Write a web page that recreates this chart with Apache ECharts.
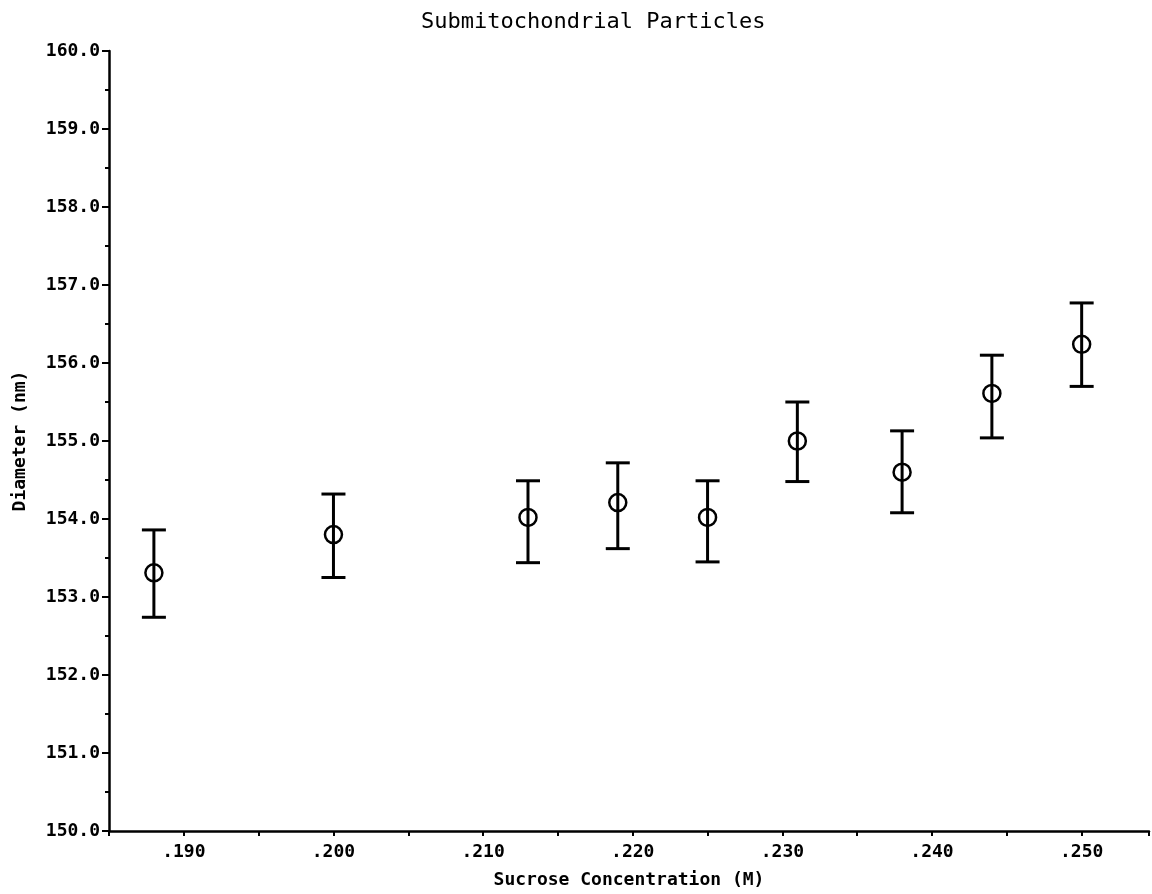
<!DOCTYPE html>
<html>
<head>
<meta charset="utf-8">
<script src="https://cdn.jsdelivr.net/npm/echarts@6/dist/echarts.min.js"></script>
<style>
  html, body { margin: 0; padding: 0; background: #fff; }
  #chart { width: 1152px; height: 894px; }
</style>
</head>
<body>
<div id="chart"></div>
<script>
  // sucrose concentration (M)
  const concentration = [0.188, 0.200, 0.213, 0.219, 0.225, 0.231, 0.238, 0.244, 0.250]
  // mean diameter (nm) and error bar ends
  const diameter = [153.31, 153.80, 154.02, 154.21, 154.02, 155.00, 154.60, 155.61, 156.24]
  const upper = [153.86, 154.32, 154.49, 154.72, 154.49, 155.50, 155.13, 156.10, 156.77]
  const lower = [152.74, 153.25, 153.44, 153.62, 153.45, 154.48, 154.08, 155.04, 155.70]

  const font = 'DejaVu Sans Mono'

  const points = concentration.map((c, i) => [c, diameter[i]])
  const bars = concentration.map((c, i) => [c, lower[i], upper[i]])

  const myChart = echarts.init(document.getElementById('chart'))
  myChart.setOption({
    animation: false,
    backgroundColor: '#fff',
    title: {
      text: 'Submitochondrial Particles',
      left: 416,
      top: 6,
      textStyle: { fontFamily: font, fontSize: 22, fontWeight: 'normal', color: '#000' }
    },
    grid: { left: 109, right: 0, top: 51, bottom: 61 },
    xAxis: {
      type: 'value',
      min: 0.185,
      max: 0.2545,
      interval: 0.005,
      name: 'Sucrose Concentration (M)',
      nameLocation: 'middle',
      nameGap: 40,
      nameTextStyle: { fontFamily: font, fontSize: 18, fontWeight: 'bold', color: '#000' },
      axisLine: { lineStyle: { color: '#000', width: 2.5 } },
      axisTick: { length: 5, lineStyle: { color: '#000', width: 2 } },
      splitLine: { show: false },
      axisLabel: {
        margin: 12,
        fontFamily: font, fontSize: 18, fontWeight: 'bold', color: '#000',
        formatter: v => {
          const k = Math.round(v * 1000)
          if (k % 10 !== 0 || k < 190) return ''
          return v.toFixed(3).slice(1)
        }
      }
    },
    yAxis: {
      type: 'value',
      min: 150,
      max: 160,
      interval: 1,
      name: 'Diameter (nm)',
      nameLocation: 'middle',
      nameGap: 80,
      nameTextStyle: { fontFamily: font, fontSize: 18, fontWeight: 'bold', color: '#000' },
      axisLine: { show: true, lineStyle: { color: '#000', width: 2.5 } },
      axisTick: { show: true, length: 7, lineStyle: { color: '#000', width: 2 } },
      minorTick: { show: true, splitNumber: 2, length: 4, lineStyle: { color: '#000', width: 2 } },
      splitLine: { show: false },
      axisLabel: {
        margin: 9,
        fontFamily: font, fontSize: 18, fontWeight: 'bold', color: '#000',
        formatter: v => v.toFixed(1)
      }
    },
    series: [
      {
        type: 'custom',
        data: bars,
        renderItem: (params, api) => {
          const x = api.value(0)
          const lo = api.coord([x, api.value(1)])
          const hi = api.coord([x, api.value(2)])
          const w = 12
          const style = { stroke: '#000', lineWidth: 3 }
          return {
            type: 'group',
            children: [
              { type: 'line', shape: { x1: lo[0], y1: lo[1], x2: hi[0], y2: hi[1] }, style },
              { type: 'line', shape: { x1: hi[0] - w, y1: hi[1], x2: hi[0] + w, y2: hi[1] }, style },
              { type: 'line', shape: { x1: lo[0] - w, y1: lo[1], x2: lo[0] + w, y2: lo[1] }, style }
            ]
          }
        },
        z: 2
      },
      {
        type: 'scatter',
        data: points,
        symbol: 'circle',
        symbolSize: 17,
        itemStyle: { color: 'rgba(0,0,0,0)', borderColor: '#000', borderWidth: 2.5, opacity: 1 },
        z: 3
      }
    ]
  })
</script>
</body>
</html>
